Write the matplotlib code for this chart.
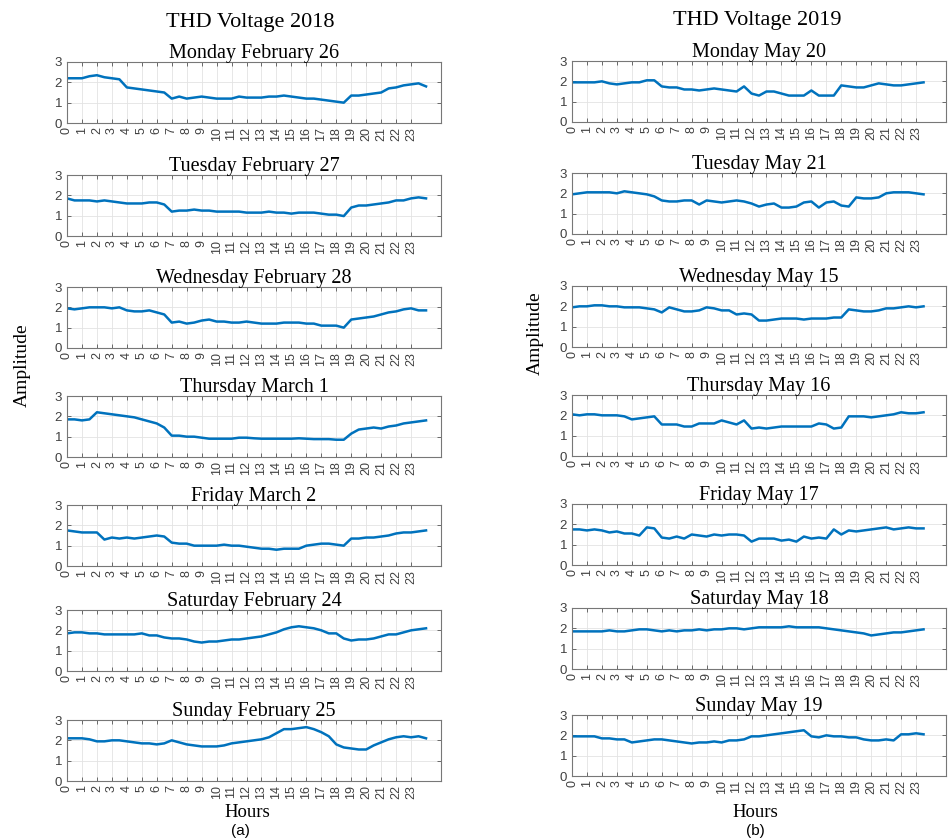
# THD voltage, one panel per weekday, 2018 vs 2019

import numpy as np
import matplotlib
matplotlib.use('Agg')
import matplotlib.pyplot as plt

# ---- data (half-hour readings, hour 0 .. 24) ----
titles_2018 = ['Monday February 26', 'Tuesday February 27', 'Wednesday February 28',
               'Thursday March 1', 'Friday March 2', 'Saturday February 24',
               'Sunday February 25']
titles_2019 = ['Monday May 20', 'Tuesday May 21', 'Wednesday May 15',
               'Thursday May 16', 'Friday May 17', 'Saturday May 18',
               'Sunday May 19']

thd_2018_mon = [2.2, 2.2, 2.2, 2.3, 2.35, 2.25, 2.2, 2.15, 1.75, 1.7, 1.65, 1.6,
                1.55, 1.5, 1.2, 1.3, 1.2, 1.25, 1.3, 1.25, 1.2, 1.2, 1.2, 1.3,
                1.25, 1.25, 1.25, 1.3, 1.3, 1.35, 1.3, 1.25, 1.2, 1.2, 1.15, 1.1,
                1.05, 1.0, 1.35, 1.35, 1.4, 1.45, 1.5, 1.7, 1.75, 1.85, 1.9, 1.95, 1.8]
thd_2018_tue = [1.85, 1.75, 1.75, 1.75, 1.7, 1.75, 1.7, 1.65, 1.6, 1.6, 1.6, 1.65,
                1.65, 1.55, 1.2, 1.25, 1.25, 1.3, 1.25, 1.25, 1.2, 1.2, 1.2, 1.2,
                1.15, 1.15, 1.15, 1.2, 1.15, 1.15, 1.1, 1.15, 1.15, 1.15, 1.1, 1.05,
                1.05, 0.98, 1.4, 1.5, 1.5, 1.55, 1.6, 1.65, 1.75, 1.75, 1.85, 1.9, 1.85]
thd_2018_wed = [1.95, 1.9, 1.95, 2.0, 2.0, 2.0, 1.95, 2.0, 1.85, 1.8, 1.8, 1.85,
                1.75, 1.65, 1.25, 1.3, 1.2, 1.25, 1.35, 1.4, 1.3, 1.3, 1.25, 1.25,
                1.3, 1.25, 1.2, 1.2, 1.2, 1.25, 1.25, 1.25, 1.2, 1.2, 1.1, 1.1,
                1.1, 1.0, 1.4, 1.45, 1.5, 1.55, 1.65, 1.75, 1.8, 1.9, 1.95, 1.85, 1.85]
thd_2018_thu = [1.85, 1.85, 1.8, 1.85, 2.2, 2.15, 2.1, 2.05, 2.0, 1.95, 1.85, 1.75,
                1.65, 1.45, 1.05, 1.05, 1.0, 1.0, 0.95, 0.9, 0.9, 0.9, 0.9, 0.95,
                0.95, 0.92, 0.9, 0.9, 0.9, 0.9, 0.9, 0.92, 0.9, 0.88, 0.88, 0.88,
                0.85, 0.85, 1.15, 1.35, 1.4, 1.45, 1.4, 1.5, 1.55, 1.65, 1.7, 1.75, 1.8]
thd_2018_fri = [1.75, 1.7, 1.65, 1.65, 1.65, 1.3, 1.4, 1.35, 1.4, 1.35, 1.4, 1.45,
                1.5, 1.45, 1.15, 1.1, 1.1, 1.0, 1.0, 1.0, 1.0, 1.05, 1.0, 1.0,
                0.95, 0.9, 0.85, 0.85, 0.8, 0.85, 0.85, 0.85, 1.0, 1.05, 1.1, 1.1,
                1.05, 1.0, 1.35, 1.35, 1.4, 1.4, 1.45, 1.5, 1.6, 1.65, 1.65, 1.7, 1.75]
thd_2018_sat = [1.85, 1.9, 1.9, 1.85, 1.85, 1.8, 1.8, 1.8, 1.8, 1.8, 1.85, 1.75,
                1.75, 1.65, 1.6, 1.6, 1.55, 1.45, 1.4, 1.45, 1.45, 1.5, 1.55, 1.55,
                1.6, 1.65, 1.7, 1.8, 1.9, 2.05, 2.15, 2.2, 2.15, 2.1, 2.0, 1.85,
                1.85, 1.6, 1.5, 1.55, 1.55, 1.6, 1.7, 1.8, 1.8, 1.9, 2.0, 2.05, 2.1]
thd_2018_sun = [2.1, 2.1, 2.1, 2.05, 1.95, 1.95, 2.0, 2.0, 1.95, 1.9, 1.85, 1.85,
                1.8, 1.85, 2.0, 1.9, 1.8, 1.75, 1.7, 1.7, 1.7, 1.75, 1.85, 1.9,
                1.95, 2.0, 2.05, 2.15, 2.35, 2.55, 2.55, 2.6, 2.65, 2.55, 2.4, 2.2,
                1.8, 1.65, 1.6, 1.55, 1.55, 1.75, 1.9, 2.05, 2.15, 2.2, 2.15, 2.2, 2.1]

# 2019 readings stop at 23.5 h
thd_2019_mon = [1.95, 1.95, 1.95, 1.95, 2.0, 1.9, 1.85, 1.9, 1.95, 1.95, 2.05, 2.05,
                1.75, 1.7, 1.7, 1.6, 1.6, 1.55, 1.6, 1.65, 1.6, 1.55, 1.5, 1.75,
                1.4, 1.3, 1.5, 1.5, 1.4, 1.3, 1.3, 1.3, 1.55, 1.3, 1.3, 1.3,
                1.8, 1.75, 1.7, 1.7, 1.8, 1.9, 1.85, 1.8, 1.8, 1.85, 1.9, 1.95]
thd_2019_tue = [1.95, 2.0, 2.05, 2.05, 2.05, 2.05, 2.0, 2.1, 2.05, 2.0, 1.95, 1.85,
                1.65, 1.6, 1.6, 1.65, 1.65, 1.45, 1.65, 1.6, 1.55, 1.6, 1.65, 1.6,
                1.5, 1.35, 1.45, 1.5, 1.3, 1.3, 1.35, 1.55, 1.6, 1.3, 1.55, 1.6,
                1.4, 1.35, 1.8, 1.75, 1.75, 1.8, 2.0, 2.05, 2.05, 2.05, 2.0, 1.95]
thd_2019_wed = [1.95, 2.0, 2.0, 2.05, 2.05, 2.0, 2.0, 1.95, 1.95, 1.95, 1.9, 1.85,
                1.7, 1.95, 1.85, 1.75, 1.75, 1.8, 1.95, 1.9, 1.8, 1.8, 1.6, 1.65,
                1.6, 1.3, 1.3, 1.35, 1.4, 1.4, 1.4, 1.35, 1.4, 1.4, 1.4, 1.45,
                1.45, 1.85, 1.8, 1.75, 1.75, 1.8, 1.9, 1.9, 1.95, 2.0, 1.95, 2.0]
thd_2019_thu = [2.05, 2.0, 2.05, 2.05, 2.0, 2.0, 2.0, 1.95, 1.8, 1.85, 1.9, 1.95,
                1.55, 1.55, 1.55, 1.45, 1.45, 1.6, 1.6, 1.6, 1.75, 1.65, 1.55, 1.75,
                1.35, 1.4, 1.35, 1.4, 1.45, 1.45, 1.45, 1.45, 1.45, 1.6, 1.55, 1.35,
                1.4, 1.95, 1.95, 1.95, 1.9, 1.95, 2.0, 2.05, 2.15, 2.1, 2.1, 2.15]
thd_2019_fri = [1.75, 1.75, 1.7, 1.75, 1.7, 1.6, 1.65, 1.55, 1.55, 1.45, 1.85, 1.8,
                1.35, 1.3, 1.4, 1.3, 1.5, 1.45, 1.4, 1.5, 1.45, 1.5, 1.5, 1.45,
                1.15, 1.3, 1.3, 1.3, 1.2, 1.25, 1.15, 1.4, 1.3, 1.35, 1.3, 1.75,
                1.5, 1.7, 1.65, 1.7, 1.75, 1.8, 1.85, 1.75, 1.8, 1.85, 1.8, 1.8]
thd_2019_sat = [1.85, 1.85, 1.85, 1.85, 1.85, 1.9, 1.85, 1.85, 1.9, 1.95, 1.95, 1.9,
                1.85, 1.9, 1.85, 1.9, 1.9, 1.95, 1.9, 1.95, 1.95, 2.0, 2.0, 1.95,
                2.0, 2.05, 2.05, 2.05, 2.05, 2.1, 2.05, 2.05, 2.05, 2.05, 2.0, 1.95,
                1.9, 1.85, 1.8, 1.75, 1.65, 1.7, 1.75, 1.8, 1.8, 1.85, 1.9, 1.95]
thd_2019_sun = [1.95, 1.95, 1.95, 1.95, 1.85, 1.85, 1.8, 1.8, 1.65, 1.7, 1.75, 1.8,
                1.8, 1.75, 1.7, 1.65, 1.6, 1.65, 1.65, 1.7, 1.65, 1.75, 1.75, 1.8,
                1.95, 1.95, 2.0, 2.05, 2.1, 2.15, 2.2, 2.25, 1.95, 1.9, 2.0, 1.95,
                1.95, 1.9, 1.9, 1.8, 1.75, 1.75, 1.8, 1.75, 2.05, 2.05, 2.1, 2.05]

series_2018 = [thd_2018_mon, thd_2018_tue, thd_2018_wed, thd_2018_thu,
               thd_2018_fri, thd_2018_sat, thd_2018_sun]
series_2019 = [thd_2019_mon, thd_2019_tue, thd_2019_wed, thd_2019_thu,
               thd_2019_fri, thd_2019_sat, thd_2019_sun]

hour_ticks = list(range(24))

# ---- layout (pixels of a 949x838 canvas) ----
W, H = 949, 838
fig = plt.figure(figsize=(W / 100, H / 100), dpi=100)

serif = 'Liberation Serif'
sans = 'Liberation Sans'
blue = '#0072BD'

left_x = (67, 441)
right_x = (572, 946)
left_tops = [62, 175, 287, 396, 505, 610, 720]
right_tops = [61, 173, 286, 395, 504, 608, 715]
ax_h = 61


def px_axes(x0, x1, top, h):
    return fig.add_axes([x0 / W, 1 - (top + h) / H, (x1 - x0) / W, h / H])


def draw_panel(ax, values, title):
    hrs = np.arange(len(values)) * 0.5
    ax.plot(hrs, values, color=blue, lw=1.8)
    ax.set_xlim(0, 25)
    ax.set_ylim(0, 3)
    ax.set_xticks(hour_ticks)
    ax.set_xticklabels([str(h) for h in hour_ticks], rotation=90,
                       fontsize=9, family=sans, color='#404040')
    ax.set_yticks([0, 1, 2, 3])
    ax.set_yticklabels(['0', '1', '2', '3'], fontsize=9.5, family=sans,
                       color='#404040')
    ax.tick_params(direction='in', length=3, width=0.6, color='#555555',
                   top=True, right=True)
    ax.tick_params(axis='x', pad=3)
    ax.tick_params(axis='y', pad=3.5)
    ax.grid(True, color='#e3e3e3', lw=0.6)
    ax.set_axisbelow(True)
    for s in ax.spines.values():
        s.set_color('#777777')
        s.set_linewidth(0.8)
    ax.set_title(title, family=serif, fontsize=14.5, pad=3)


for i in range(7):
    ax = px_axes(left_x[0], left_x[1], left_tops[i], ax_h)
    draw_panel(ax, series_2018[i], titles_2018[i])
    ax = px_axes(right_x[0], right_x[1], right_tops[i], ax_h)
    draw_panel(ax, series_2019[i], titles_2019[i])

# column headers and shared labels
fig.text(250 / W, 1 - 22 / H, 'THD Voltage 2018', family=serif, fontsize=16,
         ha='center', va='center')
fig.text(757 / W, 1 - 20 / H, 'THD Voltage 2019', family=serif, fontsize=16,
         ha='center', va='center')
fig.text(22 / W, 1 - 365 / H, 'Amplitude', family=serif, fontsize=14,
         rotation=90, ha='center', va='center')
fig.text(535 / W, 1 - 333 / H, 'Amplitude', family=serif, fontsize=14,
         rotation=90, ha='center', va='center')
fig.text(247 / W, 1 - 812 / H, 'Hours', family=serif, fontsize=13.5,
         ha='center', va='center')
fig.text(755 / W, 1 - 812 / H, 'Hours', family=serif, fontsize=13.5,
         ha='center', va='center')
fig.text(240 / W, 1 - 831 / H, '(a)', family=sans, fontsize=11,
         ha='center', va='center')
fig.text(755 / W, 1 - 831 / H, '(b)', family=sans, fontsize=11,
         ha='center', va='center')

fig.savefig('out.png', dpi=100)
